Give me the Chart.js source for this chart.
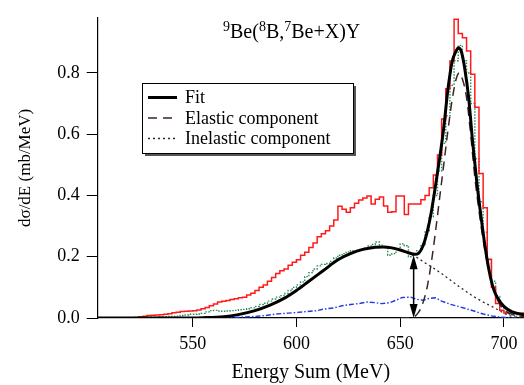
<!DOCTYPE html>
<html>
<head>
<meta charset="utf-8">
<script src="https://cdn.jsdelivr.net/npm/chart.js@4/dist/chart.umd.min.js"></script>
<style>
  body { margin: 0; background: #fff; }
</style>
</head>
<body>
<canvas id="grafica" width="524" height="385"></canvas>
<script>
// histogram bins (MeV), 2 MeV wide
const binStart = 520;
const binWidth = 2;

// measured spectrum (red)
const datosTotal = [
  0.000,0.002,0.004,0.006,0.008,0.009,0.010,0.011,0.012,0.014,
  0.017,0.019,0.021,0.022,0.023,0.024,0.026,0.030,0.034,0.040,
  0.046,0.052,0.055,0.057,0.060,0.063,0.066,0.068,0.075,0.081,
  0.090,0.100,0.108,0.120,0.132,0.145,0.154,0.160,0.172,0.182,
  0.190,0.205,0.215,0.230,0.245,0.265,0.275,0.285,0.300,0.320,
  0.365,0.355,0.345,0.360,0.375,0.385,0.392,0.398,0.372,0.388,
  0.395,0.366,0.345,0.347,0.398,0.398,0.338,0.372,0.372,0.372,
  0.386,0.400,0.425,0.467,0.532,0.650,0.748,0.839,0.975,0.929,
  0.915,0.872,0.796,0.688,0.472,0.360,0.192,0.100,0.047,0.025,
  0.016,0.016,0.016,0.016,0.016
];

// background subtracted spectrum (green dotted)
const datosNeto = [
  0.000,0.001,0.001,0.002,0.002,0.003,0.003,0.004,0.004,0.005,
  0.005,0.006,0.008,0.010,0.012,0.012,0.013,0.015,0.020,0.024,
  0.025,0.023,0.022,0.023,0.024,0.025,0.027,0.028,0.030,0.033,
  0.038,0.044,0.048,0.055,0.062,0.068,0.073,0.080,0.090,0.100,
  0.108,0.118,0.135,0.148,0.160,0.170,0.175,0.178,0.185,0.196,
  0.205,0.210,0.215,0.220,0.218,0.222,0.228,0.235,0.240,0.248,
  0.238,0.230,0.205,0.210,0.225,0.242,0.236,0.200,0.210,0.220,
  0.240,0.285,0.330,0.400,0.480,0.570,0.660,0.760,0.840,0.890,
  0.840,0.800,0.700,0.520,0.380,0.280,0.190,0.120,0.070,0.040,
  0.020,0.012,0.008,0.006,0.005
];

// background (blue dash-dot)
const fondoE = [560,570,578,585,590,596,600,605,610,613,618,622,626,630,634,638,641,645,648,651,655,658,661,664,667,670,674,678,682,686,690,694,698,702,706];
const fondoY = [0,0.002,0.004,0.008,0.013,0.016,0.018,0.021,0.024,0.029,0.033,0.040,0.044,0.047,0.052,0.050,0.047,0.050,0.058,0.067,0.068,0.061,0.058,0.064,0.066,0.055,0.045,0.038,0.030,0.022,0.013,0.007,0.003,0.001,0];

// fit
const ajusteE = [504,540,555,565,572,580,587,594,600,606,613,620,626,632,638,642,646,650,654,657,659,661,663,665,667,669,671,673,675,677,678,679.5,681,683,685,687,689,691,693,695,697,700,704,710];
const ajusteY = [0,0,0.001,0.004,0.011,0.024,0.041,0.064,0.090,0.120,0.155,0.190,0.210,0.224,0.231,0.232,0.229,0.222,0.213,0.208,0.212,0.235,0.280,0.345,0.430,0.520,0.620,0.745,0.835,0.872,0.882,0.870,0.820,0.720,0.570,0.440,0.330,0.230,0.150,0.095,0.065,0.038,0.020,0.010];

// elastic component
const elasticoE = [650,656,659,661,663,665,667,669,671,673,675,677,678.5,680,682,684,686,688,690,692,694,696,698,701,705,710];
const elasticoY = [0,0.002,0.020,0.050,0.100,0.180,0.280,0.390,0.500,0.610,0.710,0.780,0.800,0.780,0.720,0.600,0.460,0.350,0.255,0.180,0.120,0.075,0.045,0.022,0.010,0.004];

// inelastic component
const inelasticoE = [630,640,650,655,658,662,666,670,675,680,685,690,695,700,704,708];
const inelasticoY = [0.220,0.232,0.222,0.210,0.198,0.180,0.163,0.145,0.120,0.095,0.072,0.052,0.035,0.016,0.005,0];

// double arrow (inelastic height at the fit minimum)
const flechaE = 656.5;
const flechaAlto = 0.205;

const xTicks = [550, 600, 650, 700];
const yTicks = [0, 0.2, 0.4, 0.6, 0.8];
const leyenda = ['Fit', 'Elastic component', 'Inelastic component'];

const serif = "'Liberation Serif', 'Times New Roman', serif";

function histograma(vals) {
  const pts = vals.map((v, i) => ({ x: binStart + i * binWidth, y: v }));
  pts.push({ x: binStart + vals.length * binWidth, y: vals[vals.length - 1] });
  return pts;
}
function curva(xs, ys) {
  return xs.map((x, i) => ({ x: x, y: ys[i] }));
}

// legend box with shadow
const leyendaPlugin = {
  id: 'leyenda',
  afterDraw(chart) {
    const ctx = chart.ctx;
    const x0 = 142, y0 = 83, w = 211, h = 70;
    ctx.save();
    ctx.fillStyle = '#555';
    ctx.fillRect(x0 + 3, y0 + 3, w, h);
    ctx.fillStyle = '#fff';
    ctx.fillRect(x0, y0, w, h);
    ctx.strokeStyle = '#000';
    ctx.lineWidth = 1;
    ctx.strokeRect(x0 + 0.5, y0 + 0.5, w, h);
    leyenda.forEach((nombre, i) => {
      const d = chart.data.datasets.find(ds => ds.label === nombre);
      const y = y0 + 14.5 + i * 20.5;
      ctx.beginPath();
      ctx.strokeStyle = d.borderColor;
      ctx.lineWidth = d.borderWidth;
      ctx.setLineDash(d.borderDash || []);
      ctx.moveTo(148, y);
      ctx.lineTo(177, y);
      ctx.stroke();
      ctx.setLineDash([]);
      ctx.fillStyle = '#000';
      ctx.font = '18px ' + serif;
      ctx.textBaseline = 'middle';
      ctx.fillText(d.label, 185, y + 1);
    });
    ctx.restore();
  }
};

// title with superscripts + double arrow
const tituloPlugin = {
  id: 'titulo',
  afterDatasetsDraw(chart) {
    const ctx = chart.ctx;
    const xs = chart.scales.x, ys = chart.scales.y;
    ctx.save();
    // arrow
    const ax = xs.getPixelForValue(flechaE);
    const yb = ys.getPixelForValue(0);
    const yt = ys.getPixelForValue(flechaAlto);
    ctx.strokeStyle = '#000';
    ctx.fillStyle = '#000';
    ctx.lineWidth = 1.5;
    ctx.beginPath();
    ctx.moveTo(ax, yt + 6);
    ctx.lineTo(ax, yb - 6);
    ctx.stroke();
    ctx.beginPath();
    ctx.moveTo(ax, yt); ctx.lineTo(ax - 4, yt + 14); ctx.lineTo(ax + 4, yt + 14); ctx.closePath();
    ctx.fill();
    ctx.beginPath();
    ctx.moveTo(ax, yb); ctx.lineTo(ax - 4, yb - 14); ctx.lineTo(ax + 4, yb - 14); ctx.closePath();
    ctx.fill();

    // title
    const partes = [['9', true], ['Be(', false], ['8', true], ['B,', false], ['7', true], ['Be+X)Y', false]];
    let x = 223;
    const base = 38;
    ctx.textBaseline = 'alphabetic';
    partes.forEach(([t, sup]) => {
      ctx.font = (sup ? '14px ' : '20px ') + serif;
      ctx.fillText(t, x, sup ? base - 7 : base);
      x += ctx.measureText(t).width;
    });
    ctx.restore();
  }
};

const ctx = document.getElementById('grafica').getContext('2d');
const myChart = new Chart(ctx, {
  type: 'line',
  data: {
    datasets: [
      {
        label: 'Total',
        data: histograma(datosTotal),
        stepped: 'before',
        borderColor: '#ff1a1a',
        borderWidth: 1.5
      },
      {
        label: 'Neto',
        data: histograma(datosNeto),
        stepped: 'before',
        borderColor: '#2e8b57',
        borderWidth: 1.4,
        borderDash: [1.5, 1.5]
      },
      {
        label: 'Fondo',
        data: curva(fondoE, fondoY),
        borderColor: '#1f3be0',
        borderWidth: 1.4,
        borderDash: [5, 2, 1.5, 2]
      },
      {
        label: 'Inelastic component',
        order: -1,
        data: curva(inelasticoE, inelasticoY),
        borderColor: '#3b2626',
        borderWidth: 1.3,
        borderDash: [2, 3],
        cubicInterpolationMode: 'monotone'
      },
      {
        label: 'Elastic component',
        order: -2,
        data: curva(elasticoE, elasticoY),
        borderColor: '#3b2626',
        borderWidth: 1.5,
        borderDash: [9, 6],
        cubicInterpolationMode: 'monotone'
      },
      {
        label: 'Fit',
        order: -3,
        data: curva(ajusteE, ajusteY),
        borderColor: '#000',
        borderWidth: 3,
        cubicInterpolationMode: 'monotone'
      }
    ]
  },
  options: {
    responsive: false,
    animation: false,
    parsing: false,
    layout: { padding: { top: 15, right: 0, left: 0, bottom: 0 } },
    elements: { point: { radius: 0 }, line: { tension: 0, fill: false } },
    plugins: {
      legend: { display: false },
      tooltip: { enabled: false }
    },
    scales: {
      x: {
        type: 'linear',
        min: 504.2,
        max: 709.7,
        afterBuildTicks: axis => { axis.ticks = xTicks.map(v => ({ value: v })); },
        afterFit: s => { s.height = 67; },
        grid: { drawOnChartArea: false, tickLength: 9, tickColor: '#000', tickWidth: 1 },
        border: { color: '#000', width: 1.2 },
        ticks: { color: '#000', padding: 6, font: { family: serif, size: 18 }, maxRotation: 0 },
        title: { display: true, text: 'Energy Sum (MeV)', color: '#000', font: { family: serif, size: 20 }, padding: { top: 0, bottom: 0 } }
      },
      y: {
        type: 'linear',
        min: 0,
        max: 0.98,
        afterBuildTicks: axis => { axis.ticks = yTicks.map(v => ({ value: v })); },
        afterFit: s => { s.width = 97.7; },
        grid: { drawOnChartArea: false, tickLength: 11, tickColor: '#000', tickWidth: 1 },
        border: { color: '#000', width: 1.2 },
        ticks: { color: '#000', padding: 7, font: { family: serif, size: 18 }, callback: v => v.toFixed(1) },
        title: { display: true, text: 'dσ/dE (mb/MeV)', color: '#000', font: { family: serif, size: 17 }, padding: { top: 15, bottom: 0 } }
      }
    }
  },
  plugins: [leyendaPlugin, tituloPlugin]
});
</script>
</body>
</html>
